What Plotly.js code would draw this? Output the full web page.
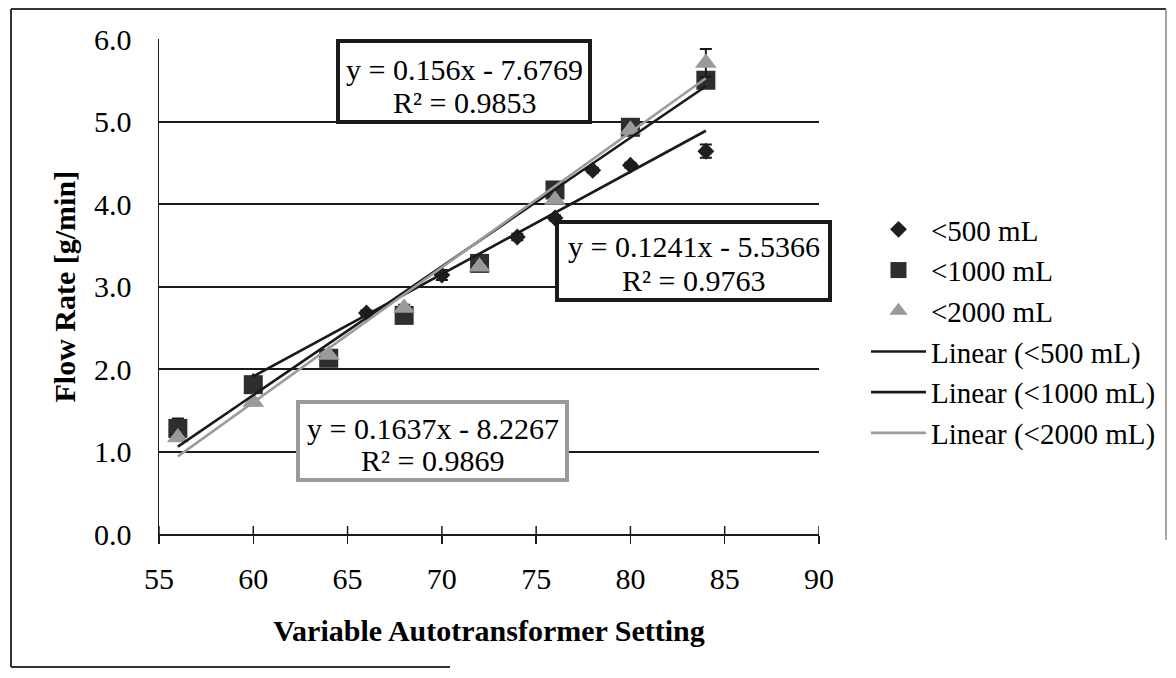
<!DOCTYPE html>
<html>
<head>
<meta charset="utf-8">
<script src="https://cdn.plot.ly/plotly-3.0.1.min.js"></script>
<style>
  html, body { margin: 0; padding: 0; background: #ffffff; }
  #chart { width: 1176px; height: 678px; }
</style>
</head>
<body>
<div id="chart"></div>
<script>
// ---- data ----
const seriesNames = ["<500 mL", "<1000 mL", "<2000 mL"];

const x500 = [60, 66, 70, 74, 76, 78, 80, 84];
const y500 = [1.85, 2.68, 3.14, 3.60, 3.83, 4.41, 4.47, 4.64];
const e500 = [0.03, 0.03, 0.06, 0.04, 0.03, 0.03, 0.03, 0.08];

const x1000 = [56, 60, 64, 68, 72, 76, 80, 84];
const y1000 = [1.28, 1.81, 2.13, 2.65, 3.28, 4.17, 4.93, 5.50];
const e1000 = [0.12, 0.05, 0.05, 0.05, 0.06, 0.05, 0.05, 0.05];

const x2000 = [56, 60, 64, 68, 72, 76, 80, 84];
const y2000 = [1.17, 1.60, 2.17, 2.74, 3.24, 4.05, 4.90, 5.71];
const e2000 = [0.04, 0.04, 0.04, 0.04, 0.04, 0.04, 0.04, 0.17];

const trendSlopes = [0.1241, 0.156, 0.1637];
const trendIntercepts = [-5.5366, -7.6769, -8.2267];
const trendR2 = [0.9763, 0.9853, 0.9869];

const xTickVals = [55, 60, 65, 70, 75, 80, 85, 90];
const yTickVals = [0, 1, 2, 3, 4, 5, 6];

const xTitle = "Variable Autotransformer Setting";
const yTitle = "Flow Rate [g/min]";

// ---- styling ----
const FONT = "'Liberation Serif', 'Times New Roman', Times, serif";
const markerColors = ["#1e1e1e", "#2e2e2e", "#9a9a9a"];
const markerSymbols = ["diamond", "square", "triangle-up"];
const markerSizes = [13, 19, 19];
const lineColors = ["#1a1a1a", "#1a1a1a", "#9c9c9c"];

const xs = [x500, x1000, x2000];
const ys = [y500, y1000, y2000];
const es = [e500, e1000, e2000];

const traces = [];
for (let i = 0; i < 3; i++) {
  traces.push({
    type: "scatter", mode: "markers", name: seriesNames[i],
    x: xs[i], y: ys[i],
    marker: { symbol: markerSymbols[i], size: markerSizes[i], color: markerColors[i],
              line: { width: 0 } },
    error_y: { type: "data", array: es[i], visible: true, color: "#1a1a1a",
               thickness: 2, width: 6 },
    cliponaxis: false
  });
}
for (let i = 0; i < 3; i++) {
  const xmin = Math.min.apply(null, xs[i]);
  const xmax = Math.max.apply(null, xs[i]);
  const lx = [xmin, xmax];
  const ly = lx.map(v => trendSlopes[i] * v + trendIntercepts[i]);
  traces.push({
    type: "scatter", mode: "lines", name: "Linear (" + seriesNames[i] + ")",
    x: lx, y: ly,
    line: { color: lineColors[i], width: 2.6 }
  });
}

// plot-area pixel geometry
const L = 159, R = 819, T = 39, B = 534;
const pw = R - L, ph = B - T;
const px = v => (v - L) / pw;
const py = v => (B - v) / ph;

// equation boxes (pixel layout) -> series index
const boxes = [
  { s: 1, x0: 338, x1: 590, y0: 41, y1: 122, l1: 70, l2: 102, c: "#1a1a1a" },
  { s: 0, x0: 557, x1: 830, y0: 222, y1: 300, l1: 246, l2: 280, c: "#1a1a1a" },
  { s: 2, x0: 298, x1: 567, y0: 402, y1: 480, l1: 428, l2: 460, c: "#9a9a9a" }
];

const shapes = [];
const annotations = [];
boxes.forEach(b => {
  shapes.push({ type: "rect", xref: "paper", yref: "paper", layer: "above",
    x0: px(b.x0), x1: px(b.x1), y0: py(b.y1), y1: py(b.y0),
    fillcolor: "#ffffff", line: { color: b.c, width: 4 } });
  const i = b.s;
  const cx = px((b.x0 + b.x1) / 2);
  annotations.push({ xref: "paper", yref: "paper", x: cx, y: py(b.l1),
    xanchor: "center", yanchor: "middle", showarrow: false,
    text: "y = " + trendSlopes[i] + "x - " + Math.abs(trendIntercepts[i]),
    font: { family: FONT, size: 30, color: "#000" } });
  annotations.push({ xref: "paper", yref: "paper", x: cx, y: py(b.l2),
    xanchor: "center", yanchor: "middle", showarrow: false,
    text: "R² = " + trendR2[i],
    font: { family: FONT, size: 30, color: "#000" } });
});

// y-axis title (placed as rotated text to match the reference spacing)
annotations.push({ xref: "paper", yref: "paper", x: px(64), y: 0.5,
  xanchor: "center", yanchor: "middle", showarrow: false, textangle: -90,
  text: "<b>" + yTitle + "</b>",
  font: { family: FONT, size: 30, color: "#000" } });

// cross ticks: upward half of each x tick
xTickVals.forEach(v => {
  shapes.push({ type: "line", xref: "x", yref: "paper", x0: v, x1: v, y0: 0, y1: 8 / ph,
    line: { color: "#1a1a1a", width: 1.5 } });
});

// outer frame
shapes.push(
  { type: "line", xref: "paper", yref: "paper", x0: px(11), x1: px(11), y0: py(9), y1: py(667),
    line: { color: "#333", width: 2 } },
  { type: "line", xref: "paper", yref: "paper", x0: px(11), x1: px(1166), y0: py(9), y1: py(9),
    line: { color: "#333", width: 2 } },
  { type: "line", xref: "paper", yref: "paper", x0: px(1166), x1: px(1166), y0: py(9), y1: py(540),
    line: { color: "#888", width: 1.5 } },
  { type: "line", xref: "paper", yref: "paper", x0: px(11), x1: px(450), y0: py(667), y1: py(667),
    line: { color: "#333", width: 2 } }
);

const layout = {
  width: 1176, height: 678,
  margin: { l: L, r: 1176 - R, t: T, b: 678 - B, autoexpand: false },
  paper_bgcolor: "#ffffff", plot_bgcolor: "#ffffff",
  font: { family: FONT, color: "#000000", size: 30 },
  showlegend: true,
  legend: {
    x: px(866), xanchor: "left", y: py(204), yanchor: "top",
    itemwidth: 55,
    font: { family: FONT, size: 29, color: "#000" },
    bgcolor: "rgba(0,0,0,0)", borderwidth: 0, traceorder: "normal"
  },
  xaxis: {
    range: [55, 90], tickvals: xTickVals, ticktext: xTickVals.map(String),
    ticks: "outside", ticklen: 8, tickwidth: 1.5, tickcolor: "#1a1a1a",
    showline: true, linecolor: "#1a1a1a", linewidth: 1.5,
    showgrid: false, zeroline: false, ticklabelstandoff: 9,
    tickfont: { family: FONT, size: 30, color: "#000" },
    title: { text: xTitle, standoff: 26,
             font: { family: FONT, size: 30, color: "#000", weight: "bold" } }
  },
  yaxis: {
    range: [0, 6], tickvals: yTickVals, ticktext: yTickVals.map(v => v.toFixed(1)),
    ticks: "", showline: true, linecolor: "#1a1a1a", linewidth: 1.5,
    showgrid: true, gridcolor: "#1a1a1a", gridwidth: 2, zeroline: false,
    ticklabelstandoff: 20,
    tickfont: { family: FONT, size: 30, color: "#000" }
  },
  annotations: annotations,
  shapes: shapes
};

Plotly.newPlot("chart", traces, layout, { staticPlot: true, displayModeBar: false });
</script>
</body>
</html>
